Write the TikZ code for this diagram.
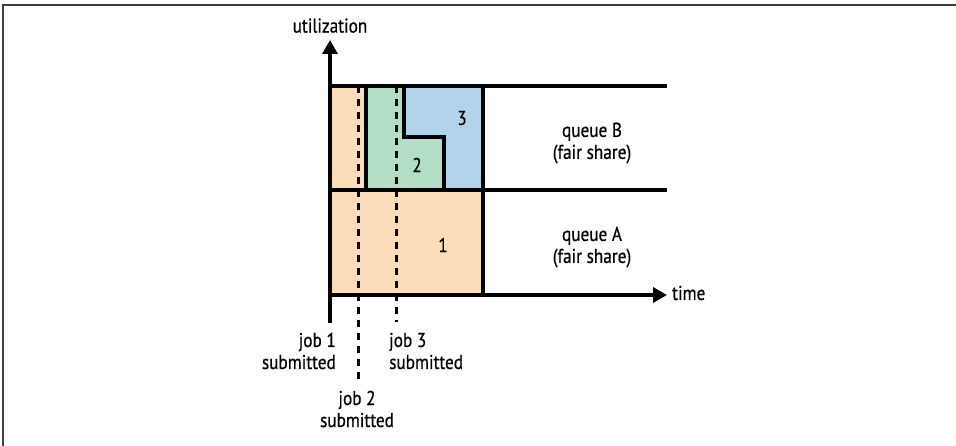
\documentclass[tikz,border=0pt]{standalone}
\usepackage{fontspec}
\setmainfont{PT Sans}[FakeStretch=0.86,FakeBold=0.6]
\usetikzlibrary{arrows.meta}
\usetikzlibrary{positioning}

\definecolor{joborange}{HTML}{FCDDBA}
\definecolor{jobgreen}{HTML}{B3DEC6}
\definecolor{jobblue}{HTML}{B3D3EA}

\begin{document}
\begin{tikzpicture}[x=1pt,y=-1pt,
		lbl/.style={inner sep=0pt,font=\fontsize{20}{22}\selectfont},
		outl/.style={line width=3.2pt,line join=miter},
		axis/.style={line width=3.4pt,-{Triangle[length=14pt,width=15pt]}},
		jobline/.style={line width=3pt,dash pattern=on 7pt off 6pt}]
		\useasboundingbox (0,0) rectangle (956,446);
		% cornice
		\draw[line width=2pt,black!75] (3,446) -- (3,5) -- (956,5);
		\def\xo{330}\def\xa{366}\def\xb{404}\def\xc{444}\def\xd{483}\def\xe{667}
		\def\yt{86}\def\ym{190}\def\yb{295}
		% aree dei job
		\fill[joborange] (\xo,\yt) -- (\xa,\yt) -- (\xa,\ym) -- (\xd,\ym) -- (\xd,\yb) -- (\xo,\yb) -- cycle;
		\fill[jobgreen] (\xa,\yt) -- (\xb,\yt) -- (\xb,137) -- (\xc,137) -- (\xc,\ym) -- (\xa,\ym) -- cycle;
		\fill[jobblue] (\xb,\yt) -- (\xd,\yt) -- (\xd,\ym) -- (\xc,\ym) -- (\xc,137) -- (\xb,137) -- cycle;
		\draw[outl] (\xa,\yt) -- (\xa,\ym);
		\draw[outl] (\xb,\yt) -- (\xb,137) -- (\xc,137) -- (\xc,\ym);
		\draw[outl] (\xd,\yt) -- (\xd,\yb);
		\draw[outl] (\xo,\yt) -- (\xe,\yt);
		\draw[outl] (\xo,\ym) -- (\xe,\ym);
		% istanti di sottomissione
		\draw[jobline] (358,\yt) -- (358,380);
		\draw[jobline] (396,\yt) -- (396,322);
		% assi
		\coordinate (orig) at (\xo,\yb);
		\draw[axis] (\xo,323) -- (\xo,40) coordinate (ytip);
		\draw[axis] (orig) -- (\xe,\yb) coordinate (xtip);
		\node[lbl,above=7pt of ytip] (util) {utilization};
		\node[lbl,anchor=west] (time) at (672,293) {time};
		% etichette
		\node[lbl,align=center] (queueB) at (592,143) {queue B\\(fair share)};
		\node[lbl,align=center] (queueA) at (592,247) {queue A\\(fair share)};
		\node[lbl] (jthree) at (462,118) {3};
		\node[lbl] (jtwo) at (417,165) {2};
		\node[lbl] (jone) at (443,245) {1};
		\node[lbl,align=right,anchor=east] (subone) at (336,351) {job 1\\submitted};
		\node[lbl,align=left,anchor=west] (subthree) at (389,351) {job 3\\submitted};
		\node[lbl,align=center] (subtwo) at (357,409) {job 2\\submitted};
	\end{tikzpicture}
\end{document}
